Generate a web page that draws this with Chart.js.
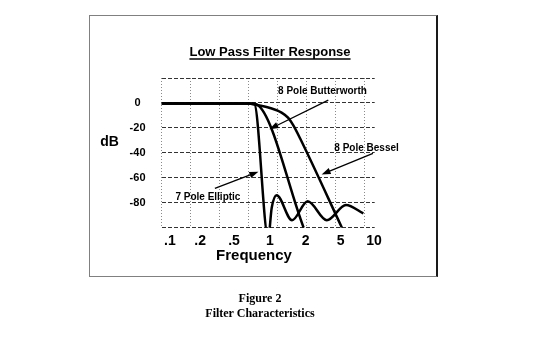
<!DOCTYPE html>
<html>
<head>
<meta charset="utf-8">
<script src="https://cdn.jsdelivr.net/npm/chart.js@4.4.1/dist/chart.umd.min.js"></script>
<style>
  html, body { margin:0; padding:0; background:#fff; width:537px; height:347px; overflow:hidden; }
  #frame { position:absolute; left:89px; top:15px; width:346px; height:260px;
           border-left:1px solid #808080; border-top:1.5px solid #808080;
           border-bottom:1.5px solid #808080; border-right:2px solid #1a1a1a; }
  #wrap  { position:absolute; left:0; top:0; width:537px; height:347px; }
  .cap   { position:absolute; left:0; width:520px; text-align:center;
           font:bold 12px "Liberation Serif", "Times New Roman", serif; color:#000; }
</style>
</head>
<body>
<div id="frame"></div>
<div id="wrap"><canvas id="chart" width="537" height="347"></canvas></div>
<div class="cap" style="top:291px">Figure 2</div>
<div class="cap" style="top:306px">Filter Characteristics</div>

<script>
// ── data (x = position along the frequency axis, in grid divisions) ──
const FREQ_LABELS = ['.1', '.2', '.5', '1', '2', '5', '10'];
const FREQ_POS    = [0.29, 1.33, 2.50, 3.74, 4.97, 6.18, 7.33];
const GRID_POS    = [0, 1, 2, 3, 4, 5, 6, 7];
const DB_TICKS    = [20, 0, -20, -40, -60, -80, -100];

const ellipticX  = [0, 3.0, 3.2, 3.68, 3.80, 3.97, 4.50, 5.04, 5.70, 6.36, 6.96];
const ellipticDb = [-0.5, -0.5, -0.9, -108, -84, -74, -94, -78.8, -94, -81.8, -88.5];

const butterX  = [0, 3.1, 3.28, 4.90];
const butterDb = [-0.5, -0.5, -1.2, -100];

const besselX  = [0, 3.0, 3.22, 3.74, 4.14, 4.37, 4.54, 4.78, 6.22];
const besselDb = [-0.5, -0.5, -1.3, -4.0, -7.7, -12, -17.8, -28.5, -100];

// callouts: label position, arrow tail, arrow head (data units)
const NOTES = [
  { text:'8 Pole Butterworth', at:[5.55, 9.4],  from:[5.75, 2.2],   to:[3.72, -21]  },
  { text:'8 Pole Bessel',      at:[7.07, -36],  from:[7.29, -40.5], to:[5.52, -57.3] },
  { text:'7 Pole Elliptic',    at:[1.60, -75.2], from:[1.84, -68.5], to:[3.34, -55.2] },
];

const pts = (xs, ys) => xs.map((x, i) => ({ x, y: ys[i] }));

Chart.defaults.font.family = '"Liberation Sans", Arial, sans-serif';
Chart.defaults.font.weight = 'bold';
Chart.defaults.color = '#000';

const FONT = '"Liberation Sans", Arial, sans-serif';

// titles, callouts and arrows
const decor = {
  id: 'decor',
  afterDraw(chart) {
    const { ctx, scales: { xl, y } } = chart;
    ctx.save();
    ctx.fillStyle = '#000';
    ctx.strokeStyle = '#000';
    ctx.textAlign = 'center';
    ctx.textBaseline = 'middle';

    // title + underline
    ctx.font = 'bold 13px ' + FONT;
    const t = 'Low Pass Filter Response';
    ctx.fillText(t, 270, 52.5);
    const w = ctx.measureText(t).width;
    ctx.lineWidth = 1.4;
    ctx.beginPath(); ctx.moveTo(270 - w / 2, 59); ctx.lineTo(270 + w / 2, 59); ctx.stroke();

    ctx.font = 'bold 14px ' + FONT;
    ctx.fillText('dB', 109.5, 142);
    ctx.font = 'bold 15px ' + FONT;
    ctx.fillText('Frequency', 254, 256);

    ctx.font = 'bold 10px ' + FONT;
    NOTES.forEach(n => {
      ctx.fillText(n.text, xl.getPixelForValue(n.at[0]), y.getPixelForValue(n.at[1]));
      const x0 = xl.getPixelForValue(n.from[0]), y0 = y.getPixelForValue(n.from[1]);
      const x1 = xl.getPixelForValue(n.to[0]),   y1 = y.getPixelForValue(n.to[1]);
      const a = Math.atan2(y1 - y0, x1 - x0);
      ctx.lineWidth = 1.3;
      ctx.beginPath(); ctx.moveTo(x0, y0); ctx.lineTo(x1 - 6 * Math.cos(a), y1 - 6 * Math.sin(a)); ctx.stroke();
      ctx.beginPath();
      ctx.moveTo(x1, y1);
      ctx.lineTo(x1 - 9 * Math.cos(a) + 3.2 * Math.sin(a), y1 - 9 * Math.sin(a) - 3.2 * Math.cos(a));
      ctx.lineTo(x1 - 9 * Math.cos(a) - 3.2 * Math.sin(a), y1 - 9 * Math.sin(a) + 3.2 * Math.cos(a));
      ctx.closePath(); ctx.fill();
    });
    ctx.restore();
  }
};

const line = (data) => ({
  data, borderColor:'#000', borderWidth:2.5, pointRadius:0,
  cubicInterpolationMode:'monotone', fill:false, xAxisID:'xl', yAxisID:'y',
});

new Chart(document.getElementById('chart'), {
  type: 'line',
  data: {
    datasets: [
      line(pts(besselX, besselDb)),
      line(pts(butterX, butterDb)),
      line(pts(ellipticX, ellipticDb)),
    ],
  },
  options: {
    responsive: false, animation: false,
    layout: { autoPadding: false, padding: { left: 101.5, top: 78, right: 162.3, bottom: 91.3 } },
    plugins: { legend: { display: false }, tooltip: { enabled: false } },
    scales: {
      xg: {
        type: 'linear', position: 'bottom', min: 0, max: 7.35,
        afterBuildTicks: s => { s.ticks = GRID_POS.map(v => ({ value: v })); },
        afterFit: s => { s.height = 0; },
        ticks: { display: false },
        border: { display: false, dash: [1, 2] },
        grid: { color:'#8a8a8a', lineWidth:1, drawTicks:false },
      },
      xl: {
        type: 'linear', position: 'bottom', min: 0, max: 7.35,
        afterBuildTicks: s => { s.ticks = FREQ_POS.map(v => ({ value: v })); },
        afterFit: s => { s.height = 28; },
        ticks: {
          font: { size: 14, weight: 'bold' }, color: '#000', padding: 5, maxRotation: 0, autoSkip: false,
          callback: (v, i) => FREQ_LABELS[i],
        },
        border: { display: false },
        grid: { display: false, drawTicks: false },
      },
      y: {
        type: 'linear', min: -100, max: 20,
        afterBuildTicks: s => { s.ticks = DB_TICKS.map(v => ({ value: v })); },
        afterFit: s => { s.width = 60; },
        ticks: {
          font: { size: 11, weight: 'bold' }, color: '#000', padding: 16, crossAlign: 'center',
          callback: v => (v === 20 || v === -100) ? '' : String(v),
        },
        border: { display: false, dash: [4, 2] },
        grid: { color:'#333', lineWidth:1, drawTicks:false },
      },
    },
  },
  plugins: [decor],
});
</script>
</body>
</html>
